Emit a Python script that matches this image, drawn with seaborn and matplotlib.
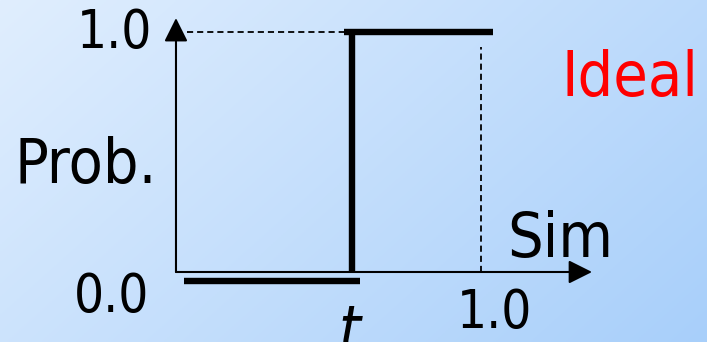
import numpy as np
import matplotlib
matplotlib.use('Agg')
import matplotlib.pyplot as plt
import matplotlib.transforms as mtransforms
import seaborn as sns

# --- values (Sim on x, Prob. on y) ---
t_cut = 0.577                      # threshold t
low_sim = [0.026, 0.603]           # Prob. = 0 below t
low_prob = [0.0, 0.0]
rise_sim = [t_cut, t_cut]          # jump at t
rise_prob = [0.0, 1.0]
high_sim = [0.551, 1.039]          # Prob. = 1 above t
high_prob = [1.0, 1.0]
guide_h_sim = [0.036, 0.554]       # dashed guide to y = 1.0
guide_h_prob = [1.0, 1.0]
guide_v_sim = [1.0, 1.0]           # dashed guide at Sim = 1.0
guide_v_prob = [0.0, 0.9375]
x_axis_end = 1.364
y_axis_end = 1.058

y_tick_labels = ['0.0', '1.0']
x_tick_label = '1.0'
y_name, x_name, curve_name, t_name = 'Prob.', 'Sim', 'Ideal', 't'

sns.set_theme(style='white')
plt.rcParams['font.family'] = ['DejaVu Sans']

fig = plt.figure(figsize=(7.07, 3.42), dpi=100)
ax = fig.add_axes([0, 0, 1, 1])
ax.set_xlim(-0.577, 1.741)
ax.set_ylim(-0.2917, 1.1333)
ax.axis('off')

# background: light blue diagonal gradient
gx, gy = np.meshgrid(np.linspace(0, 1, 300), np.linspace(1, 0, 150))
g = (gx * 0.65 + (1 - gy) * 0.35)
c0 = np.array([224, 238, 254]) / 255
c1 = np.array([168, 207, 250]) / 255
img = c0 + (c1 - c0) * g[..., None]
ax.imshow(img, extent=[0, 1, 0, 1], transform=ax.transAxes, aspect='auto', zorder=0)

# axes with arrow heads
arrow_kw = dict(arrowstyle='-|>,head_length=0.72,head_width=0.36', color='black',
                lw=1.5, shrinkA=0, shrinkB=0, mutation_scale=20)
ax.annotate('', xy=(0, y_axis_end), xytext=(0, 0), arrowprops=arrow_kw, zorder=3)
ax.annotate('', xy=(x_axis_end, 0), xytext=(0, 0), arrowprops=arrow_kw, zorder=3)

# dashed guides
sns.lineplot(x=guide_h_sim, y=guide_h_prob, ax=ax, color='black', lw=1.3,
             linestyle=(0, (3.4, 2.2)), estimator=None, sort=False)
sns.lineplot(x=guide_v_sim, y=guide_v_prob, ax=ax, color='black', lw=1.3,
             linestyle=(0, (3.4, 2.2)), estimator=None, sort=False)

# ideal step curve
low_off = mtransforms.offset_copy(ax.transData, fig=fig, x=0, y=-9, units='dots')
sns.lineplot(x=low_sim, y=low_prob, ax=ax, color='black', lw=4.6,
             estimator=None, sort=False, transform=low_off, solid_capstyle='butt')
sns.lineplot(x=rise_sim, y=rise_prob, ax=ax, color='black', lw=4.6,
             estimator=None, sort=False, solid_capstyle='butt')
sns.lineplot(x=high_sim, y=high_prob, ax=ax, color='black', lw=4.6,
             estimator=None, sort=False, solid_capstyle='butt')

# text
num_kw = dict(fontsize=38, fontstretch='condensed', color='black', va='baseline', ha='center')
lab_kw = dict(fontsize=45, fontstretch='condensed', va='baseline', ha='center')
ax.text(-0.203, 0.933, y_tick_labels[1], **num_kw)
ax.text(-0.21, -0.1667, y_tick_labels[0], **num_kw)
ax.text(1.043, -0.233, x_tick_label, **num_kw)
ax.text(-0.295, 0.371, y_name, color='black', **lab_kw)
ax.text(1.259, 0.0625, x_name, color='black', **lab_kw)
ax.text(1.489, 0.733, curve_name, color='red', **lab_kw)
ax.text(t_cut - 0.01, -0.325, t_name, color='black', style='italic', **lab_kw)

fig.savefig('out.png', dpi=100)
